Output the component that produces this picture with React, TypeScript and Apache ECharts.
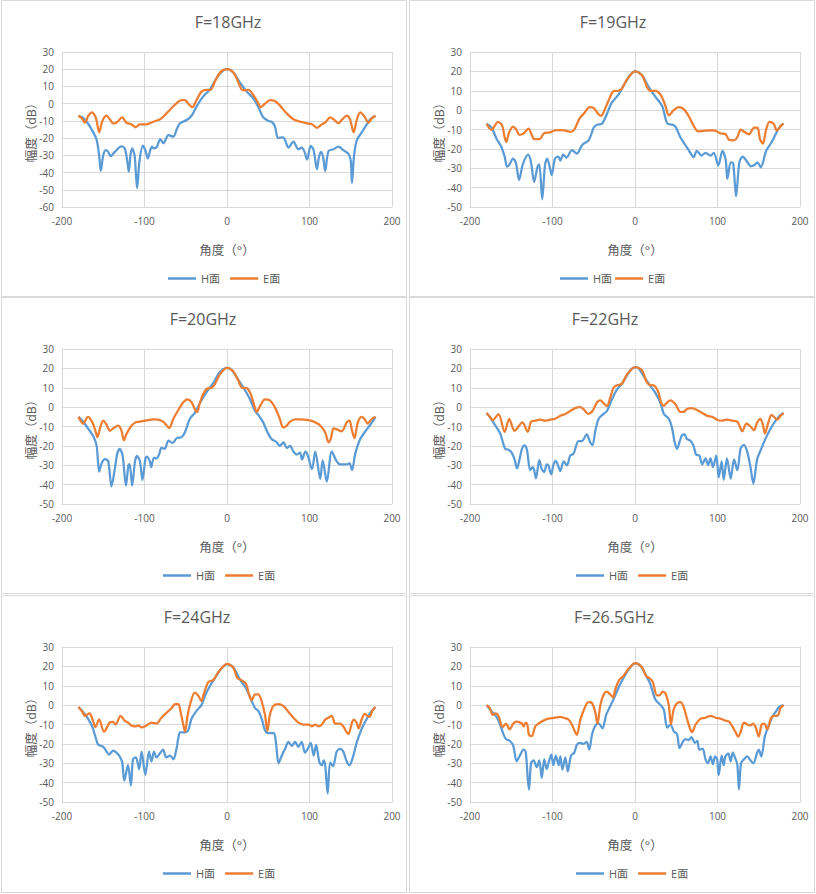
import React, { useEffect, useRef } from "react";
import * as echarts from "echarts";

// ---------- data: [angle (deg), amplitude (dB)] ----------
const h18: number[][] = [[-180,-7],[-175,-8],[-170,-10.5],[-164,-15],[-158,-21],[-155,-30],[-153,-39],[-150,-30],[-147,-27],[-144,-28],[-141,-30.5],[-136,-28],[-128,-24.8],[-124,-26],[-121,-33],[-119,-39.5],[-117,-30],[-115,-26],[-112,-30],[-109,-49],[-106,-33],[-102,-24.4],[-99,-27],[-96,-31.8],[-93,-27],[-91,-25],[-89,-26],[-85,-25],[-81,-20.7],[-77,-23],[-71,-18.2],[-65,-19.2],[-61,-15],[-57,-11.4],[-49,-9.5],[-43,-7],[-37,-1.7],[-29,4.1],[-21,8],[-12.5,15],[-6.5,18.5],[0,20],[8,18],[16,12],[24,7],[32,3],[38,-2],[44,-8],[50,-10],[54,-10.5],[58,-13],[62,-20],[68,-19.5],[74.5,-25.5],[80.5,-22],[86.5,-26.5],[90.5,-25.5],[94,-28],[97,-32.5],[101.5,-24.5],[105,-27],[109,-38],[111.5,-31],[114,-28],[116.5,-31],[119,-39],[123,-27.5],[129,-26.5],[135,-25],[141,-27],[147,-29],[150,-33],[151.5,-46],[154,-30],[157.5,-21],[163.5,-16.5],[169.5,-12],[174,-9],[180,-7]];
const e18: number[][] = [[-180,-7],[-176,-8.5],[-172.5,-11],[-168,-7],[-164,-5],[-160,-7],[-158,-10],[-155,-16.6],[-151,-10],[-146,-7],[-142,-9],[-138,-11.4],[-134,-11],[-127,-8],[-122,-11],[-116,-12],[-110.5,-13.7],[-106,-12],[-97.5,-12],[-89.5,-10.5],[-81,-9],[-75,-6.5],[-69,-3.5],[-63,-0.5],[-55,2],[-51,2],[-47,0],[-42,-2],[-37,2],[-31,7],[-25,8],[-20,8],[-14.5,13],[-8.5,18],[0,20],[8,18],[14,12],[19,7.8],[26,8],[32,5],[37,1],[41,-2],[46,0],[52,2],[58,1.5],[64,-1],[72,-5.5],[80.5,-9],[89,-10.5],[97,-11.5],[103,-12],[109,-14],[115,-12],[119,-11],[125,-8],[129,-9],[135,-11.3],[140,-9],[145,-7],[149,-9],[153.5,-16.6],[157.5,-9],[161.5,-5],[166,-7],[171.5,-11],[175.5,-8.5],[180,-7]];

const h19: number[][] = [[-180,-7],[-174,-9],[-168,-14.6],[-162,-19],[-158,-24],[-155,-29.2],[-152,-28],[-148,-25],[-144.5,-27],[-140.5,-36],[-136,-28],[-129.5,-23],[-126,-27],[-122.3,-37],[-118,-29],[-116,-28],[-112.5,-46],[-109,-28],[-106.5,-25],[-103,-30],[-101,-33.5],[-97,-25],[-93,-24],[-90.5,-26],[-87,-23],[-83,-24.5],[-76.5,-20.6],[-70.5,-22.5],[-64,-18],[-56,-15.5],[-50,-9],[-46,-7.5],[-40,-7],[-34,-2],[-28,4],[-20,8],[-12,14],[-6,18],[0,20],[8.5,18],[16.5,12],[24.5,7],[33,2],[39,-6.8],[45,-7.5],[49,-8.5],[55,-14],[61,-18],[67,-22],[71,-24.3],[75,-21],[80.5,-23.5],[85.5,-22],[91.5,-23.5],[95.5,-22],[101,-28.5],[106,-21],[110,-26],[112,-35.5],[116,-27],[119,-27.5],[122.5,-44.5],[126.5,-27],[130.5,-24],[136.5,-27],[140.5,-29],[144.5,-28.5],[148.5,-27],[152.5,-29.5],[159,-21],[165,-17],[171,-12],[175,-9],[180,-7]];
const e19: number[][] = [[-180,-7],[-174,-10.2],[-166,-6],[-161,-8],[-158,-14],[-156,-16.5],[-153,-12],[-148,-8.5],[-144,-10],[-140,-12.8],[-135,-12],[-129,-9.5],[-125,-13],[-122,-15],[-115.5,-15],[-110.5,-12],[-103.5,-11.5],[-97.5,-10.5],[-91.5,-10.3],[-85.5,-10.5],[-78,-11.2],[-73.5,-10],[-67.5,-4.5],[-61.5,-1.5],[-55,1.6],[-50,1],[-44.5,-2],[-41,-3],[-36,1],[-32,5],[-26,9.8],[-20,10],[-16,11],[-9.5,16],[0,20],[8.5,18],[14.5,12],[18.5,10],[24.5,10],[31,8],[37,2],[41,-2.7],[47,0],[53,1.5],[59,0.5],[65,-3],[71,-8],[76.5,-11],[83,-10.7],[91.5,-10.4],[97.5,-10.6],[103.5,-12],[110,-12.5],[114,-15.3],[120,-15.6],[124,-14],[128,-10],[132,-11],[138,-12.5],[144.5,-9],[148.5,-9],[151.5,-15],[155,-17.3],[159,-10],[163,-6],[168,-7],[172,-10.5],[177,-8],[180,-7]];

const h20: number[][] = [[-180,-5],[-174.5,-7.4],[-168.5,-11],[-162,-15],[-158,-20],[-155,-33.3],[-152,-29],[-148,-26.8],[-144,-28],[-140,-40.9],[-136,-32],[-133,-24],[-130,-21.6],[-126.5,-25],[-122.5,-40.5],[-119.5,-30],[-118,-29.4],[-115,-40.5],[-111.5,-28],[-109,-25.2],[-105.5,-28],[-102.5,-37.6],[-99,-27],[-97,-25.5],[-93.5,-28],[-92,-31],[-88.5,-26],[-85.5,-26.5],[-82,-24],[-79.5,-21],[-75.5,-21.5],[-71,-17.3],[-66,-18.5],[-61,-16],[-55,-15.5],[-51,-13],[-45,-6],[-39,-3],[-33,2],[-24.5,8],[-16.5,12.5],[-10.5,17],[-5,19.5],[0,20.3],[5.5,19.3],[11.5,15.5],[20,10],[28,4],[34,-2],[38,-4],[44,-8],[48,-12],[54,-16.5],[60,-18],[64,-20],[68.5,-18.2],[72.5,-21],[76.5,-20],[80.5,-23],[84.5,-24.5],[88.5,-23.5],[91,-27],[95,-23],[98,-25],[103,-32],[107,-23],[113,-37],[116,-27.5],[121,-38.5],[127,-23],[133,-28],[137,-29.5],[145,-29.5],[148.5,-29],[151.5,-32.5],[155.5,-24],[161.5,-16.5],[169.5,-11.5],[175.5,-8],[180,-5]];
const e20: number[][] = [[-180,-5],[-174.5,-8.5],[-168.5,-5],[-163,-8],[-159,-13],[-157,-15.5],[-154,-11],[-150,-7],[-146,-9],[-142,-12.2],[-138,-11],[-132,-9.6],[-128,-12],[-125,-17.2],[-122,-14],[-116.5,-10],[-111.5,-8],[-105.5,-7.5],[-97.5,-6.8],[-89.5,-6.3],[-83.5,-6.5],[-77.5,-7.5],[-73,-9.5],[-70,-10.8],[-65,-6],[-59,-1.5],[-53,2.5],[-48,4],[-43,2.5],[-39,-1],[-36,-2.5],[-33,2],[-28.5,7],[-24.5,9.5],[-18.5,10],[-14.5,12],[-8.5,17],[0,20.3],[7.5,18.5],[14,13.5],[18,10],[24,9.8],[28.5,7],[33,1],[36,-2.5],[40,0.5],[46,4],[52,3.5],[58,0],[64,-6],[68,-10.5],[72.5,-9.5],[76.5,-7.5],[82.5,-6.3],[88.5,-6.3],[97,-6.6],[105,-7.5],[113,-9.5],[119,-13],[123,-18.2],[126,-16],[129,-11],[133,-11.5],[139,-12.5],[145,-8],[148.5,-7],[151.5,-12],[154.5,-16],[158.5,-8],[163,-5],[166.5,-6],[170.5,-8.5],[175.5,-6],[180,-5]];

const h22: number[][] = [[-180,-3],[-176,-5],[-170,-9],[-163.5,-13.5],[-157.5,-21.5],[-153.5,-22],[-149.5,-23.5],[-146,-27],[-143,-31.6],[-140,-27],[-137,-21.5],[-134,-19.7],[-131,-22],[-127,-32.5],[-124,-31],[-122.5,-32],[-120,-36.8],[-116,-27.3],[-113,-32],[-110,-33.5],[-107,-29.5],[-105,-30],[-101.5,-34.7],[-99,-30],[-96,-27.8],[-92.5,-31],[-90.5,-33],[-86.5,-28],[-82.5,-30],[-78.5,-25],[-74.5,-24],[-68.5,-17.5],[-64.5,-17.5],[-58.5,-14],[-54.5,-18],[-51.5,-19.6],[-48,-12],[-44,-6],[-38,-3.5],[-34,-2],[-28,4],[-22,9],[-16,12],[-9.5,16.5],[-4.5,19.5],[0,20.5],[4.5,20],[10.5,16],[18.5,11],[24.5,7.5],[31,2],[35,-3.5],[41,-6],[45,-11],[48,-18],[51,-21.5],[54,-18],[57,-14.5],[60,-14],[63,-16.5],[67,-17.3],[71,-20],[74,-24.5],[78,-25],[81.5,-29.5],[85.5,-26.5],[88.5,-30],[91.5,-26.5],[94.5,-31],[98.5,-25],[101.5,-36.3],[105,-28],[107.5,-37.5],[111.5,-26.5],[116,-37],[120,-27],[124,-32.5],[128,-21.5],[132,-19.5],[136,-23],[140,-31],[143.5,-39.5],[148,-27],[153.5,-21],[158.5,-16],[164.5,-11],[170.5,-7],[176.5,-4],[180,-3]];
const e22: number[][] = [[-180,-3],[-176,-5],[-172.5,-6.7],[-165.5,-3.6],[-158,-12.8],[-152.5,-6],[-146,-12.2],[-136.5,-7.9],[-130,-12.7],[-126,-7.5],[-121,-7],[-115,-6.5],[-109,-7],[-103,-6.5],[-97,-6],[-90.5,-4.5],[-84.5,-3.5],[-78.5,-2],[-72.5,-0.5],[-66.5,0],[-62.5,-1],[-56.5,-3.5],[-51.5,-2],[-46,2.5],[-42,3.5],[-38,2],[-34,0.5],[-30,5],[-26,10],[-22,11.3],[-16,12],[-9.5,17],[0,20.7],[8.5,19],[13.5,13.5],[17.5,11.5],[22.5,11.3],[28,8],[32,2],[35,0.7],[39,2.5],[43,3.5],[49,1.5],[55,-2.5],[59,-2.5],[63,-1],[69,-0.5],[75,-1.5],[81.5,-3],[87.5,-4.5],[93.5,-5],[99.5,-6.5],[105.5,-7],[111.5,-6.5],[118,-7],[124,-7.5],[127,-10],[130,-12.5],[135,-8.5],[140,-10],[144,-12],[148,-8],[152,-6],[155,-9],[157.5,-13.7],[161.5,-8],[165.5,-4],[169.5,-5.5],[172.5,-6.5],[176.5,-4.5],[180,-3]];

const h24: number[][] = [[-180,-1],[-174.5,-3.5],[-168.5,-7],[-163,-11.5],[-159,-17],[-156,-20.5],[-150,-21.5],[-146,-24],[-143,-25.5],[-138,-23.5],[-134,-24.5],[-130,-26.5],[-127,-29.5],[-124.5,-39],[-120,-31],[-116.5,-41.5],[-114,-28],[-110.5,-27],[-106.5,-33],[-103.5,-24],[-99,-36],[-94.5,-24],[-91.5,-29],[-88.5,-24],[-85.5,-27],[-81.5,-25],[-77.5,-23],[-73.5,-27],[-69,-26],[-65,-28],[-61,-22],[-59,-17],[-57,-14],[-51,-14],[-47,-13],[-43,-7],[-37,-3],[-31,0],[-26.5,5],[-20.5,10],[-14.5,14],[-8.5,18],[0,21.2],[7.5,19.5],[16,13],[24,8],[30,2],[34,-1.5],[38,-3],[42,-7],[46,-13],[50,-14.5],[54,-14.5],[57,-14.5],[59.5,-20],[62.5,-30],[66.5,-26],[70.5,-22.5],[74.5,-19],[78.5,-21],[82.5,-19],[86.5,-21.5],[90.5,-19],[94.5,-24.5],[98.5,-22],[101.5,-19.5],[105,-26],[108,-20.5],[112,-29.5],[115,-31],[117,-28.5],[119,-31],[122,-45.7],[125,-29.5],[128.5,-31.5],[133,-24],[137,-22.6],[141,-24],[145,-29],[148.5,-31],[152.5,-27],[157.5,-19],[163.5,-12],[169.5,-7],[174.5,-3.5],[180,-1]];
const e24: number[][] = [[-180,-1],[-174.5,-4],[-172.5,-5.6],[-166.5,-4.2],[-162.5,-8],[-159.5,-11.4],[-155,-7.3],[-149,-13.7],[-142,-8.9],[-138,-8.6],[-135,-10],[-129,-5.5],[-124,-8],[-120,-9],[-116,-10.5],[-111.5,-11],[-107.5,-10.5],[-103.5,-11.5],[-97.5,-10.5],[-91.5,-9],[-85.5,-9.5],[-79.5,-6.5],[-73.5,-4],[-67,-1.5],[-63,0.5],[-59,0.5],[-56.5,-3],[-53,-10],[-51,-13.7],[-48,-6],[-45,0],[-39,6.4],[-35,5],[-31,2.1],[-28,6],[-22.5,12],[-16.5,13],[-10.5,17],[0,21.3],[7.5,19.5],[12.5,14],[18,12.8],[23,11],[27,5],[30,2.5],[34,5.5],[38,5.5],[42,2],[46,-5],[49,-13.3],[52,-5],[56,-0.5],[62,0.5],[68.5,-0.5],[74.5,-3.5],[80.5,-6.5],[86.5,-9],[92.5,-10],[99,-10],[103,-11],[107,-10],[111,-11],[115,-10],[119,-7.5],[123,-6.5],[127,-5.5],[131,-9.5],[134,-9.5],[137,-9.5],[141,-11],[145,-14],[147,-15],[151.5,-9],[153.5,-7.5],[157,-9],[159.5,-12],[163.5,-7],[167,-4.5],[170,-5.5],[173,-6],[176,-3],[180,-1]];

const h265: number[][] = [[-180,0],[-176,-2],[-172,-4],[-168,-6],[-163.5,-10],[-159.5,-15],[-156.5,-17.5],[-151.5,-18.5],[-147.5,-21],[-143.5,-29],[-139.5,-26],[-135,-23],[-132.5,-24],[-130,-38],[-128.5,-43.6],[-126,-30],[-123,-28.5],[-119,-32],[-116,-28.5],[-113,-37.5],[-110,-28],[-107,-33],[-104,-28.5],[-101.5,-25.5],[-99,-31],[-96,-26],[-92.5,-31],[-90.5,-26.5],[-88,-33.3],[-84.5,-27],[-81.5,-34.2],[-77.5,-26],[-73.5,-24.5],[-70.5,-20.5],[-66.5,-19.5],[-62.5,-20],[-58.5,-19],[-55.5,-23],[-52,-15],[-48,-10.5],[-44,-9.5],[-39.5,-12],[-35,-5],[-30,-0.5],[-26,3],[-20,9],[-14,14],[-7.5,18.5],[0,21.6],[6.5,20.5],[12.5,16],[18.5,11],[24.5,3],[31,0],[35,-2.5],[39,-11.6],[43,-10],[47,-13.5],[51,-15],[54,-22.2],[58,-19],[61,-17.5],[65,-18],[68.5,-16.5],[72.5,-19.5],[75.5,-18.5],[78,-23],[82,-22.5],[85.5,-28],[88.5,-30],[91.5,-26.5],[94.5,-30.5],[97,-26.5],[99.5,-28],[101.5,-36],[105,-26],[107.5,-31],[109.5,-26.5],[113,-25],[116,-29],[118.5,-24.5],[122,-28],[124,-30.5],[126,-43.5],[128.5,-30],[132,-28],[136,-26.5],[140,-28.5],[143.5,-30],[148,-24.5],[150,-23],[153,-26.5],[157.5,-16],[162.5,-10],[166.5,-6],[170.5,-3.5],[174.5,-1],[180,0]];
const e265: number[][] = [[-180,0],[-176,-1.5],[-172.5,-5],[-169,-4.3],[-165.5,-5.5],[-160.5,-11.4],[-156.5,-9.5],[-152,-12.5],[-147.5,-9.5],[-143.5,-8.5],[-137,-9.5],[-135,-11],[-132.5,-9],[-130.5,-10],[-128.5,-15.4],[-125,-16],[-121,-11],[-117,-9.5],[-111,-8],[-105,-7],[-97,-6.5],[-90.5,-6],[-86.5,-6.5],[-80.5,-7.5],[-76.5,-10],[-72.5,-14],[-70.5,-15.4],[-66.5,-8],[-62.5,-3],[-56.5,1.5],[-52,1],[-48,-4],[-45.5,-9.6],[-42,0],[-38,5.5],[-34,7],[-30,5.5],[-26.5,4],[-24,8],[-19,13],[-14,15],[-7.5,19],[0,21.7],[8.5,19.5],[13.5,15],[17.5,14],[21.5,12],[26.5,5],[29.5,5],[33.5,7],[37,6],[41,0],[43.5,-10],[47,-2],[51,1],[55,1.5],[59,-1],[63,-7],[67,-12.5],[69,-14],[73.5,-10],[79.5,-7],[85.5,-6.5],[91.5,-5.5],[97.5,-6.5],[103.5,-7],[109.5,-8],[114,-8.5],[118,-11],[122,-14],[125,-16.3],[128,-14],[132,-9],[136,-10],[140,-10.5],[143,-9.5],[146,-11],[150,-16.2],[153.5,-10],[156.5,-9.5],[160.5,-12.5],[164.5,-7],[168.5,-5.5],[172.5,-5.5],[176.5,-1.5],[180,0]];

const titles = ["F=18GHz", "F=19GHz", "F=20GHz", "F=22GHz", "F=24GHz", "F=26.5GHz"];
const hSeries = [h18, h19, h20, h22, h24, h265];
const eSeries = [e18, e19, e20, e22, e24, e265];
const yMins = [-60, -50, -50, -50, -50, -50];
const yMax = 30;
const xTicks = [-200, 200];
const legendNames = ["H面", "E面"];

// ---------- layout ----------
const PANEL_X = [0, 408];
const PANEL_Y = [0, 297, 595];
const TITLE_CX = [228, 205, 203, 197, 197, 206];
const LEGEND_LEFT = [168, 152, 163, 168, 163, 168];
const LEGEND_GAP = [10, 3, 10, 10, 10, 10];

const BLUE = "#5B9BD5";
const ORANGE = "#ED7D31";
const GRID = "#d9d9d9";
const TEXT = "#595959";
const FONT = "'Open Sans', 'Noto Sans CJK SC', sans-serif";

function buildOption() {
  const grid: any[] = [];
  const xAxis: any[] = [];
  const yAxis: any[] = [];
  const series: any[] = [];
  const legend: any[] = [];
  const graphic: any[] = [];

  titles.forEach((t, i) => {
    const x0 = PANEL_X[i % 2];
    const y0 = PANEL_Y[Math.floor(i / 2)];
    graphic.push({
      type: "rect",
      shape: { x: x0 + 1.5, y: y0 + 0.5, width: 405, height: i >= 4 ? 297 : 296 },
      style: { fill: "none", stroke: GRID, lineWidth: 1 },
      silent: true,
    });
    graphic.push({
      type: "text",
      x: x0 + TITLE_CX[i],
      y: y0 + 22,
      style: { text: t, fill: TEXT, fontSize: 16, fontFamily: FONT, align: "center", verticalAlign: "middle" },
      silent: true,
    });
    grid.push({ left: x0 + 62, top: y0 + 52, width: 330, height: 155 });
    xAxis.push({
      gridIndex: i,
      type: "value",
      min: xTicks[0],
      max: xTicks[1],
      interval: 100,
      axisLine: { show: true, onZero: false, lineStyle: { color: GRID, width: 1 } },
      axisTick: { show: false },
      axisLabel: { color: TEXT, fontSize: 10, margin: 9, fontFamily: FONT },
      splitLine: { show: true, lineStyle: { color: GRID, width: 1 } },
      name: "角度（°）",
      nameLocation: "middle",
      nameGap: 37,
      nameMoveOverlap: false,
      nameTextStyle: { color: TEXT, fontSize: 12.5, fontFamily: FONT },
    });
    yAxis.push({
      gridIndex: i,
      type: "value",
      min: yMins[i],
      max: yMax,
      interval: 10,
      axisLine: { show: true, onZero: false, lineStyle: { color: GRID, width: 1 } },
      axisTick: { show: false },
      axisLabel: { color: TEXT, fontSize: 10, margin: 8, fontFamily: FONT },
      splitLine: { show: true, lineStyle: { color: GRID, width: 1 } },
      name: "幅度（dB）",
      nameLocation: "middle",
      nameGap: 24,
      nameRotate: 90,
      nameMoveOverlap: false,
      nameTextStyle: { color: TEXT, fontSize: 12.5, fontFamily: FONT },
    });
    series.push({
      type: "line",
      name: legendNames[0],
      xAxisIndex: i,
      yAxisIndex: i,
      data: hSeries[i],
      smooth: 0.3,
      symbol: "none",
      lineStyle: { color: BLUE, width: 2.25 },
      itemStyle: { color: BLUE },
    });
    series.push({
      type: "line",
      name: legendNames[1],
      xAxisIndex: i,
      yAxisIndex: i,
      data: eSeries[i],
      smooth: 0.3,
      symbol: "none",
      lineStyle: { color: ORANGE, width: 2.25 },
      itemStyle: { color: ORANGE },
    });
    legend.push({
      left: x0 + LEGEND_LEFT[i],
      top: y0 + 273,
      padding: 0,
      icon: "rect",
      itemWidth: 28,
      itemHeight: 2.5,
      itemGap: LEGEND_GAP[i],
      selectedMode: false,
      data: legendNames,
      textStyle: { color: TEXT, fontSize: 11, fontFamily: FONT },
    });
  });

  return {
    animation: false,
    backgroundColor: "#ffffff",
    textStyle: { fontFamily: FONT },
    grid,
    xAxis,
    yAxis,
    series,
    legend,
    graphic,
  };
}

export default function App() {
  const ref = useRef<HTMLDivElement>(null);
  useEffect(() => {
    if (!ref.current) return;
    const chart = echarts.init(ref.current, undefined, { renderer: "svg" });
    chart.setOption(buildOption() as any);
    return () => chart.dispose();
  }, []);
  return (
    <div
      ref={ref}
      style={{ position: "absolute", left: 0, top: 0, width: 816, height: 894, background: "#fff" }}
    />
  );
}
